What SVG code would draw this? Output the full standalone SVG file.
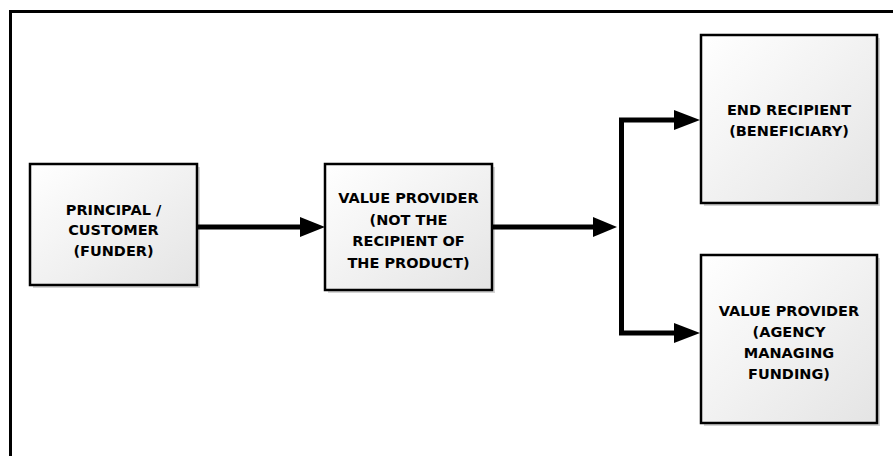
<svg xmlns="http://www.w3.org/2000/svg" width="893" height="456" viewBox="0 0 893 456">
  <style>
    .box { fill: url(#boxFill); stroke: #000; stroke-width: 2.5; }
    .shadow { fill: #b8b8b8; opacity: 0.6; }
    .label { font-family: "DejaVu Sans", "Liberation Sans", sans-serif; font-weight: bold; font-size: 14.5px; fill: #000; text-anchor: middle; }
    .wire { fill: none; stroke: #000; stroke-width: 5; stroke-linejoin: miter; }
    .head { fill: #000; }
  </style>
  <defs>
    <linearGradient id="boxFill" x1="0" y1="0" x2="1" y2="1">
      <stop offset="0" stop-color="#ffffff"/>
      <stop offset="1" stop-color="#e4e4e4"/>
    </linearGradient>
  </defs>

  <rect x="0" y="0" width="893" height="456" fill="#fff"/>

  <!-- outer frame -->
  <path d="M10.5 456 V11.5 H893" fill="none" stroke="#000" stroke-width="3"/>

  <g id="principal">
    <rect class="shadow" x="33" y="167" width="167" height="121"/>
    <rect class="box" x="30" y="164" width="167" height="121"/>
    <text class="label" x="113.5" y="214.5">PRINCIPAL /</text>
    <text class="label" x="113.5" y="235">CUSTOMER</text>
    <text class="label" x="113.5" y="255.5">(FUNDER)</text>
  </g>

  <g id="value-provider">
    <rect class="shadow" x="328" y="167" width="167" height="126"/>
    <rect class="box" x="325" y="164" width="167" height="126"/>
    <text class="label" x="408.5" y="203">VALUE PROVIDER</text>
    <text class="label" x="408.5" y="224.5">(NOT THE</text>
    <text class="label" x="408.5" y="246">RECIPIENT OF</text>
    <text class="label" x="408.5" y="267.5">THE PRODUCT)</text>
  </g>

  <g id="end-recipient">
    <rect class="shadow" x="704" y="38" width="176" height="168"/>
    <rect class="box" x="701" y="35" width="176" height="168"/>
    <text class="label" x="789" y="115">END RECIPIENT</text>
    <text class="label" x="789" y="136">(BENEFICIARY)</text>
  </g>

  <g id="funding-agency">
    <rect class="shadow" x="704" y="258" width="176" height="168"/>
    <rect class="box" x="701" y="255" width="176" height="168"/>
    <text class="label" x="789" y="315.5">VALUE PROVIDER</text>
    <text class="label" x="789" y="337">(AGENCY</text>
    <text class="label" x="789" y="358">MANAGING</text>
    <text class="label" x="789" y="379">FUNDING)</text>
  </g>

  <g id="connectors">
    <path class="wire" d="M197 227 H303"/>
    <polygon class="head" points="300,217 325,227 300,237"/>
    <path class="wire" d="M492 227 H596"/>
    <polygon class="head" points="593,217 617,227 593,237"/>
    <path class="wire" d="M677 120 H621.5 V333 H677"/>
    <polygon class="head" points="674,110 700,120 674,130"/>
    <polygon class="head" points="674,323 700,333 674,343"/>
  </g>
</svg>
